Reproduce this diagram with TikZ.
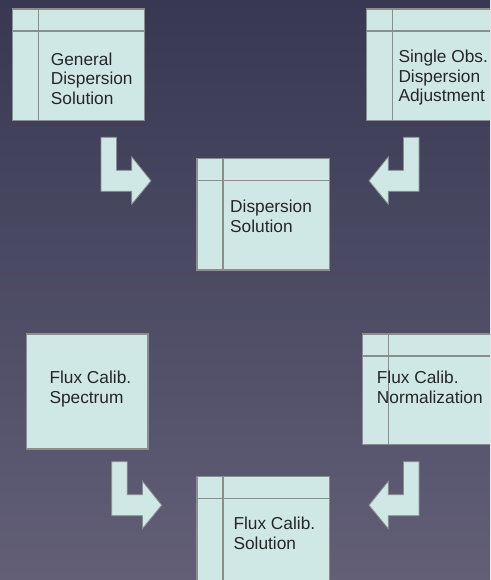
\documentclass[tikz,border=0pt]{standalone}
\usepackage{fontspec}
\setmainfont{Liberation Sans}
\usepackage{tikz}
\definecolor{boxfill}{HTML}{D0E8E5}
\definecolor{boxline}{HTML}{8C8E8E}
\definecolor{textgray}{HTML}{262626}
\definecolor{bgtop}{HTML}{383852}
\definecolor{bgbot}{HTML}{625F77}
\tikzset{bentarrow/.pic={
  \filldraw[barrow] (0,0) -- (15.5,0) -- (15.5,33) -- (30.7,33) -- (30.7,19.5)
    -- (50,43.5) -- (30.7,67) -- (30.7,54) -- (0,54) -- cycle;}}

\begin{document}
\begin{tikzpicture}[x=1pt,y=-1pt]
  % styles
  \tikzstyle{box} = [draw=boxline,fill=boxfill,line width=1.2pt,anchor=north west,inner sep=0pt];
  \tikzstyle{rule} = [draw=boxline,line width=1.2pt];
  \tikzstyle{dbox} = [box,path picture={
      \draw[rule] ([yshift=-22pt]path picture bounding box.north west) -- ([yshift=-22pt]path picture bounding box.north east);
      \draw[rule] ([xshift=26pt]path picture bounding box.north west) -- ([xshift=26pt]path picture bounding box.south west);}];
  \tikzstyle{txt} = [anchor=base west,align=left,inner sep=0pt,text=textgray,font=\fontsize{17.3}{19.5}\selectfont];
  \tikzstyle{barrow} = [draw=boxline,fill=boxfill,line width=0.8pt];

  % background
  \shade[top color=bgtop,bottom color=bgbot] (0,0) rectangle (490,580);
  \useasboundingbox (0,0) rectangle (490,580);
  \clip (0,0) rectangle (490,580);

  % nodes
  \node[dbox,minimum width=132.5pt,minimum height=111.5pt] (gen) at (11.7,8.5) {};
  \node[dbox,minimum width=132.5pt,minimum height=111.5pt] (single) at (365.7,8.5) {};
  \node[dbox,minimum width=132.4pt,minimum height=111.3pt] (disp) at (196.3,158) {};
  \node[box,minimum width=121.3pt,minimum height=115pt] (fspec) at (26,333.3) {};
  \node[dbox,minimum width=132.5pt,minimum height=110.7pt] (fnorm) at (362,333.3) {};
  \node[dbox,minimum width=132.4pt,minimum height=111pt] (fsol) at (196.3,475.5) {};

  % labels (anchored on the last line)
  \node[txt] (gen-t) at (50.7,104.3) {General\\Dispersion\\Solution};
  \node[txt] (single-t) at (398.3,101.7) {Single Obs.\\Dispersion\\Adjustment};
  \node[txt] (disp-t) at (230,232.3) {Dispersion\\Solution};
  \node[txt] (fspec-t) at (49.3,403.3) {Flux Calib.\\Spectrum};
  \node[txt] (fnorm-t) at (376.7,403.3) {Flux Calib.\\Normalization};
  \node[txt] (fsol-t) at (233.3,549) {Flux Calib.\\Solution};

  % arrows
  \pic at (101,137.3) {bentarrow};
  \pic[xscale=-1] at (419,137.3) {bentarrow};
  \pic at (111.7,461.7) {bentarrow};
  \pic[xscale=-1] at (419,461.7) {bentarrow};
\end{tikzpicture}
\end{document}
